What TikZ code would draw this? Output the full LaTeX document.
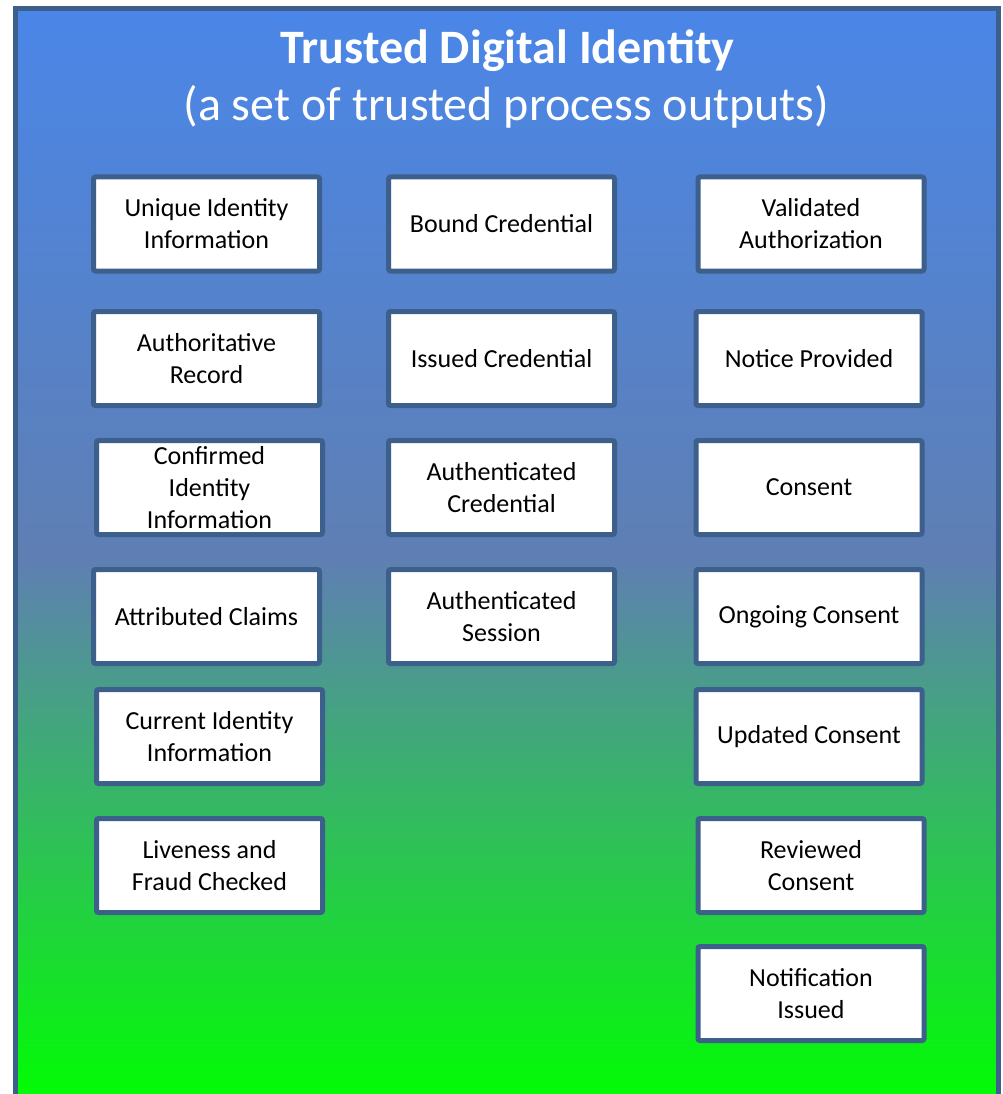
\documentclass[tikz,border=0pt]{standalone}
\usepackage{fontspec}
\setmainfont{Carlito}
\definecolor{frameblue}{HTML}{3D5F8C}
\definecolor{topblue}{HTML}{4A86E8}
\definecolor{midblue}{HTML}{5F7FB3}
\definecolor{bottomgreen}{HTML}{00FF00}
\begin{document}
\begin{tikzpicture}[x=1pt,y=-1pt,
  outcome/.style={draw=frameblue, line width=5pt, fill=white, rounded corners=2pt,
    minimum width=226pt, minimum height=94pt, inner sep=0pt, align=center,
    font=\fontsize{26}{32}\selectfont, text=black},
  heading/.style={anchor=base, text=white, inner sep=0pt}]
\useasboundingbox (0,0) rectangle (1003,1094);
\clip (0,0) rectangle (1003,1094);

% gradient panel
\path[shading=axis, top color=topblue, bottom color=bottomgreen, middle color=midblue]
  (15,8.5) rectangle (998.5,1110);
\draw[frameblue, line width=5pt] (15,1110) -- (15,8.5) -- (998.5,8.5) -- (998.5,1110);

% heading
\node[heading, font=\fontsize{48}{58}\selectfont\bfseries] (title) at (507.5,63.5) {Trusted Digital Identity};
\node[heading, font=\fontsize{48}{58}\selectfont] (subtitle) at (506.5,120.5) {(a set of trusted process outputs)};

% identity column
\node[outcome] (uii) at (206.5,224)   {Unique Identity\\Information};
\node[outcome] (ar)  at (206.5,358.5) {Authoritative\\Record};
\node[outcome] (cii) at (209.5,487.5) {Confirmed\\Identity\\Information};
\node[outcome] (ac)  at (206.5,616.5) {Attributed Claims};
\node[outcome] (cur) at (209.5,736.5) {Current Identity\\Information};
\node[outcome] (lfc) at (209.5,865.5) {Liveness and\\Fraud Checked};

% credential column
\node[outcome] (bc)  at (501.5,224)   {Bound Credential};
\node[outcome] (ic)  at (501.5,358.5) {Issued Credential};
\node[outcome] (acr) at (501.5,487.5) {Authenticated\\Credential};
\node[outcome] (as)  at (501.5,616.5) {Authenticated\\Session};

% authorization and consent column
\node[outcome] (va)  at (811,224)   {Validated\\Authorization};
\node[outcome] (np)  at (809,358.5) {Notice Provided};
\node[outcome] (con) at (809,487.5) {Consent};
\node[outcome] (oc)  at (809,616.5) {Ongoing Consent};
\node[outcome] (uc)  at (809,736.5) {Updated Consent};
\node[outcome] (rc)  at (811,865.5) {Reviewed\\Consent};
\node[outcome] (ni)  at (811,993.5) {Notification\\Issued};
\end{tikzpicture}
\end{document}
